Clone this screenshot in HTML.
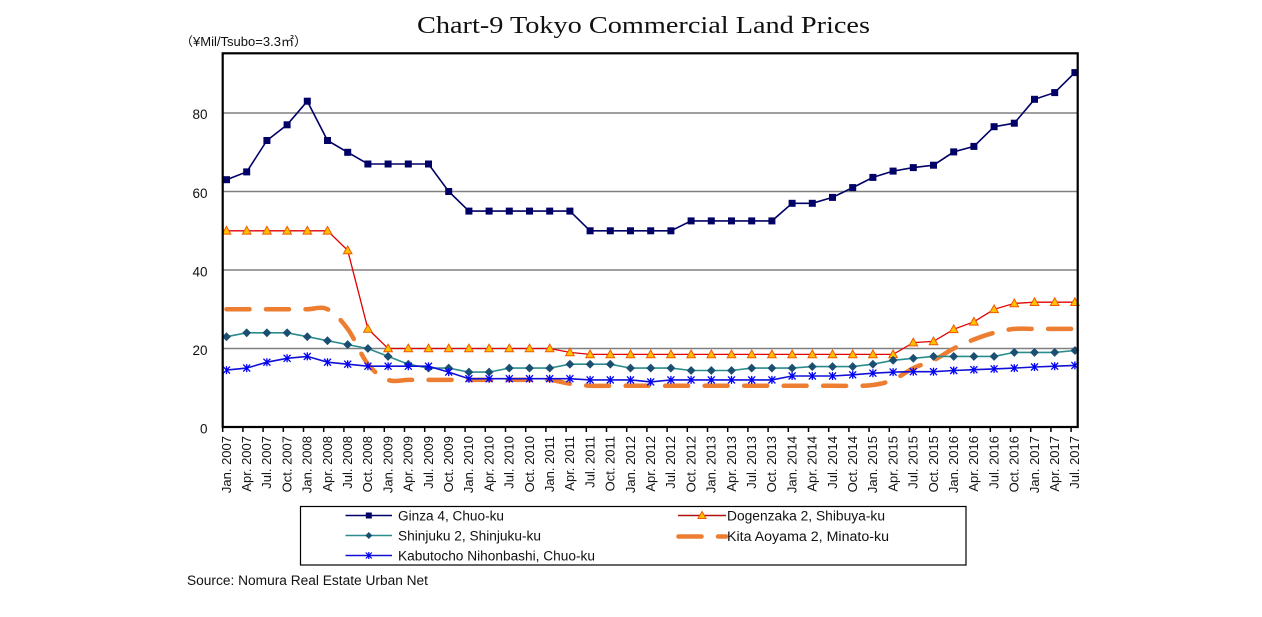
<!DOCTYPE html>
<html><head><meta charset="utf-8"><style>
html,body{margin:0;padding:0;background:#fff;}
svg{display:block;font-family:"Liberation Sans","Noto Sans CJK JP",sans-serif;}
</style></head><body>
<svg width="1262" height="617" viewBox="0 0 1262 617" xmlns="http://www.w3.org/2000/svg">
<defs>
<marker id="mSq" markerWidth="10" markerHeight="10" refX="5" refY="5" markerUnits="userSpaceOnUse" overflow="visible"><rect x="1.5" y="1.5" width="7" height="7" fill="#000066"/></marker>
<marker id="mTri" markerWidth="10" markerHeight="10" refX="5" refY="5" markerUnits="userSpaceOnUse" overflow="visible"><path d="M5,0.6 L9.3,8.3 L0.7,8.3 Z" fill="#ffc000" stroke="#f05a00" stroke-width="1"/></marker>
<marker id="mDia" markerWidth="10" markerHeight="10" refX="5" refY="5" markerUnits="userSpaceOnUse" overflow="visible"><path d="M5,1 L9,5 L5,9 L1,5 Z" fill="#1b4f72" stroke="#1b4f72" stroke-width="0.6"/></marker>
<marker id="mAst" markerWidth="10" markerHeight="10" refX="5" refY="5" markerUnits="userSpaceOnUse" overflow="visible"><path d="M1.5,1.5 L8.5,8.5 M8.5,1.5 L1.5,8.5 M5,1 L5,9" stroke="#0000ff" stroke-width="1.3" fill="none"/></marker>
</defs>

<!-- title -->
<text x="417" y="33" font-family="'Liberation Serif',serif" font-size="24" fill="#111" textLength="453" lengthAdjust="spacingAndGlyphs">Chart-9 Tokyo Commercial Land Prices</text>
<text x="180" y="46" font-size="12.5" fill="#111" textLength="127" lengthAdjust="spacingAndGlyphs">（¥Mil/Tsubo=3.3㎡）</text>

<!-- gridlines -->
<g stroke="#808080" stroke-width="1.6">
<line x1="223" y1="348.5" x2="1077" y2="348.5"/>
<line x1="223" y1="270" x2="1077" y2="270"/>
<line x1="223" y1="191.5" x2="1077" y2="191.5"/>
<line x1="223" y1="113" x2="1077" y2="113"/>
</g>

<!-- y labels -->
<g font-size="13.5" fill="#111" text-anchor="end">
<text x="207.5" y="433.5">0</text>
<text x="207.5" y="355">20</text>
<text x="207.5" y="276.5">40</text>
<text x="207.5" y="198">60</text>
<text x="207.5" y="119">80</text>
</g>

<!-- Kita Aoyama (orange dashed, smoothed) -->
<path d="M226.5,309.25 L307.3,309.25 C314.03,309.25 320.77,305.98 327.5,309.25 C334.23,312.5 340.97,319.74 347.7,328.9 C354.43,338.06 361.17,355.7 367.9,364.2 C374.63,372.7 381.37,377.28 388.1,379.9 C394.83,382.52 401.57,379.9 408.3,379.9 L529.5,379.9 C536.23,379.9 542.97,379.25 549.7,379.9 C556.43,380.55 563.17,382.82 569.9,383.8 C576.63,384.78 583.37,385.47 590.1,385.8 C596.83,386.13 603.57,385.8 610.3,385.8 L832.5,385.8 C839.23,385.8 845.97,385.93 852.7,385.8 C859.43,385.67 866.17,385.98 872.9,385.0 C879.63,384.02 886.37,382.72 893.1,379.9 C899.83,377.08 906.57,371.37 913.3,368.1 C920.03,364.83 926.77,363.57 933.5,360.3 C940.23,357.03 946.97,351.97 953.7,348.5 C960.43,345.03 967.17,342.12 973.9,339.5 C980.63,336.88 987.37,334.57 994.1,332.8 C1000.83,331.03 1007.57,329.55 1014.3,328.9 C1021.03,328.25 1027.77,328.9 1034.5,328.9 L1074.9,328.9" fill="none" stroke="#ed7d31" stroke-width="4.5" stroke-linecap="round" stroke-dasharray="23 16.5"/>

<!-- Ginza -->
<polyline fill="none" stroke="#000066" stroke-width="1.6" marker-start="url(#mSq)" marker-mid="url(#mSq)" marker-end="url(#mSq)" points="226.5,179.7 246.7,171.9 266.9,140.5 287.1,124.8 307.3,101.2 327.5,140.5 347.7,152.3 367.9,164 388.1,164 408.3,164 428.5,164 448.7,191.5 468.9,211.1 489.1,211.1 509.3,211.1 529.5,211.1 549.7,211.1 569.9,211.1 590.1,230.8 610.3,230.8 630.5,230.8 650.7,230.8 670.9,230.8 691.1,220.9 711.3,220.9 731.5,220.9 751.7,220.9 771.9,220.9 792.1,203.3 812.3,203.3 832.5,197.4 852.7,187.6 872.9,177.4 893.1,171.1 913.3,167.6 933.5,165.2 953.7,151.9 973.9,146.4 994.1,126.7 1014.3,123.2 1034.5,99.3 1054.7,92.6 1074.9,72.6"/>

<!-- Dogenzaka -->
<polyline fill="none" stroke="#e00000" stroke-width="1.3" marker-start="url(#mTri)" marker-mid="url(#mTri)" marker-end="url(#mTri)" points="226.5,230.8 246.7,230.8 266.9,230.8 287.1,230.8 307.3,230.8 327.5,230.8 347.7,250.4 367.9,328.9 388.1,348.5 408.3,348.5 428.5,348.5 448.7,348.5 468.9,348.5 489.1,348.5 509.3,348.5 529.5,348.5 549.7,348.5 569.9,352.4 590.1,354.4 610.3,354.4 630.5,354.4 650.7,354.4 670.9,354.4 691.1,354.4 711.3,354.4 731.5,354.4 751.7,354.4 771.9,354.4 792.1,354.4 812.3,354.4 832.5,354.4 852.7,354.4 872.9,354.4 893.1,354.4 913.3,342.6 933.5,341.4 953.7,329.3 973.9,321.8 994.1,309.3 1014.3,303.4 1034.5,302.2 1054.7,302.2 1074.9,302.2"/>

<!-- Shinjuku -->
<polyline fill="none" stroke="#2a8c8c" stroke-width="1.6" marker-start="url(#mDia)" marker-mid="url(#mDia)" marker-end="url(#mDia)" points="226.5,336.7 246.7,332.8 266.9,332.8 287.1,332.8 307.3,336.7 327.5,340.7 347.7,344.6 367.9,348.5 388.1,356.4 408.3,364.2 428.5,368.1 448.7,368.1 468.9,372.1 489.1,372.1 509.3,368.1 529.5,368.1 549.7,368.1 569.9,364.2 590.1,364.2 610.3,364.2 630.5,368.1 650.7,368.1 670.9,368.1 691.1,370.5 711.3,370.5 731.5,370.5 751.7,368.1 771.9,368.1 792.1,368.1 812.3,366.6 832.5,366.6 852.7,366.6 872.9,364.2 893.1,360.3 913.3,358.3 933.5,356.4 953.7,356.4 973.9,356.4 994.1,356.4 1014.3,352.4 1034.5,352.4 1054.7,352.4 1074.9,350.5"/>

<!-- Kabutocho -->
<polyline fill="none" stroke="#1010d8" stroke-width="1.6" marker-start="url(#mAst)" marker-mid="url(#mAst)" marker-end="url(#mAst)" points="226.5,370.1 246.7,368.1 266.9,362.2 287.1,358.3 307.3,356.4 327.5,362.2 347.7,364.2 367.9,366.2 388.1,366.2 408.3,366.2 428.5,366.2 448.7,372.1 468.9,378.7 489.1,378.7 509.3,378.7 529.5,378.7 549.7,378.7 569.9,378.7 590.1,379.9 610.3,379.9 630.5,379.9 650.7,381.9 670.9,379.9 691.1,379.9 711.3,379.9 731.5,379.9 751.7,379.9 771.9,379.9 792.1,376 812.3,376 832.5,376 852.7,374.8 872.9,373.2 893.1,372.1 913.3,371.7 933.5,371.7 953.7,370.5 973.9,369.7 994.1,368.9 1014.3,368.1 1034.5,367 1054.7,366.2 1074.9,365.4"/>

<!-- plot border / axes -->
<rect x="222.7" y="53.3" width="855" height="373.7" fill="none" stroke="#000" stroke-width="2.2"/>

<!-- x ticks -->
<path stroke="#000" stroke-width="1.5" fill="none" d="M222.7,427V432 M242.9,427V432 M263.1,427V432 M283.3,427V432 M303.5,427V432 M323.7,427V432 M343.9,427V432 M364.1,427V432 M384.3,427V432 M404.5,427V432 M424.7,427V432 M444.9,427V432 M465.1,427V432 M485.3,427V432 M505.5,427V432 M525.7,427V432 M545.9,427V432 M566.1,427V432 M586.3,427V432 M606.5,427V432 M626.7,427V432 M646.9,427V432 M667.1,427V432 M687.3,427V432 M707.5,427V432 M727.7,427V432 M747.9,427V432 M768.1,427V432 M788.3,427V432 M808.5,427V432 M828.7,427V432 M848.9,427V432 M869.1,427V432 M889.3,427V432 M909.5,427V432 M929.7,427V432 M949.9,427V432 M970.1,427V432 M990.3,427V432 M1010.5,427V432 M1030.7,427V432 M1050.9,427V432 M1071.1,427V432"/>

<!-- x labels -->
<g font-size="13" fill="#111" text-anchor="end">
<text transform="translate(230.8,436) rotate(-90)">Jan. 2007</text>
<text transform="translate(251.0,436) rotate(-90)">Apr. 2007</text>
<text transform="translate(271.2,436) rotate(-90)">Jul. 2007</text>
<text transform="translate(291.4,436) rotate(-90)">Oct. 2007</text>
<text transform="translate(311.6,436) rotate(-90)">Jan. 2008</text>
<text transform="translate(331.8,436) rotate(-90)">Apr. 2008</text>
<text transform="translate(352.0,436) rotate(-90)">Jul. 2008</text>
<text transform="translate(372.2,436) rotate(-90)">Oct. 2008</text>
<text transform="translate(392.4,436) rotate(-90)">Jan. 2009</text>
<text transform="translate(412.6,436) rotate(-90)">Apr. 2009</text>
<text transform="translate(432.8,436) rotate(-90)">Jul. 2009</text>
<text transform="translate(453.0,436) rotate(-90)">Oct. 2009</text>
<text transform="translate(473.2,436) rotate(-90)">Jan. 2010</text>
<text transform="translate(493.4,436) rotate(-90)">Apr. 2010</text>
<text transform="translate(513.6,436) rotate(-90)">Jul. 2010</text>
<text transform="translate(533.8,436) rotate(-90)">Oct. 2010</text>
<text transform="translate(554.0,436) rotate(-90)">Jan. 2011</text>
<text transform="translate(574.2,436) rotate(-90)">Apr. 2011</text>
<text transform="translate(594.4,436) rotate(-90)">Jul. 2011</text>
<text transform="translate(614.6,436) rotate(-90)">Oct. 2011</text>
<text transform="translate(634.8,436) rotate(-90)">Jan. 2012</text>
<text transform="translate(655.0,436) rotate(-90)">Apr. 2012</text>
<text transform="translate(675.2,436) rotate(-90)">Jul. 2012</text>
<text transform="translate(695.4,436) rotate(-90)">Oct. 2012</text>
<text transform="translate(715.6,436) rotate(-90)">Jan. 2013</text>
<text transform="translate(735.8,436) rotate(-90)">Apr. 2013</text>
<text transform="translate(756.0,436) rotate(-90)">Jul. 2013</text>
<text transform="translate(776.2,436) rotate(-90)">Oct. 2013</text>
<text transform="translate(796.4,436) rotate(-90)">Jan. 2014</text>
<text transform="translate(816.6,436) rotate(-90)">Apr. 2014</text>
<text transform="translate(836.8,436) rotate(-90)">Jul. 2014</text>
<text transform="translate(857.0,436) rotate(-90)">Oct. 2014</text>
<text transform="translate(877.2,436) rotate(-90)">Jan. 2015</text>
<text transform="translate(897.4,436) rotate(-90)">Apr. 2015</text>
<text transform="translate(917.6,436) rotate(-90)">Jul. 2015</text>
<text transform="translate(937.8,436) rotate(-90)">Oct. 2015</text>
<text transform="translate(958.0,436) rotate(-90)">Jan. 2016</text>
<text transform="translate(978.2,436) rotate(-90)">Apr. 2016</text>
<text transform="translate(998.4,436) rotate(-90)">Jul. 2016</text>
<text transform="translate(1018.6,436) rotate(-90)">Oct. 2016</text>
<text transform="translate(1038.8,436) rotate(-90)">Jan. 2017</text>
<text transform="translate(1059.0,436) rotate(-90)">Apr. 2017</text>
<text transform="translate(1079.2,436) rotate(-90)">Jul. 2017</text>
</g>

<!-- legend -->
<rect x="300.5" y="506.5" width="665.5" height="58.5" fill="#fff" stroke="#000" stroke-width="1.2"/>
<line x1="345.5" y1="515.5" x2="392" y2="515.5" stroke="#000066" stroke-width="1.6"/>
<rect x="365.8" y="512.5" width="6" height="6" fill="#000066"/>
<line x1="345.5" y1="535.5" x2="392" y2="535.5" stroke="#2a8c8c" stroke-width="1.6"/>
<path d="M368.8,532 L372.3,535.5 L368.8,539 L365.3,535.5 Z" fill="#1b4f72"/>
<line x1="345.5" y1="555.5" x2="392" y2="555.5" stroke="#1010d8" stroke-width="1.6"/>
<path d="M365.8,552.5 L371.8,558.5 M371.8,552.5 L365.8,558.5 M368.8,552 L368.8,559" stroke="#0000ff" stroke-width="1.2"/>
<line x1="678" y1="515.5" x2="726" y2="515.5" stroke="#b01010" stroke-width="1.4"/>
<path d="M702,511.5 L706,518.5 L698,518.5 Z" fill="#ffc000" stroke="#f05a00" stroke-width="1"/>
<line x1="678.5" y1="536.5" x2="726" y2="536.5" stroke="#ed7d31" stroke-width="4.5" stroke-linecap="round" stroke-dasharray="23 16.5"/>

<g font-size="13.5" fill="#111">
<text x="398" y="520.5" textLength="106" lengthAdjust="spacingAndGlyphs">Ginza 4, Chuo-ku</text>
<text x="398" y="540.5" textLength="143" lengthAdjust="spacingAndGlyphs">Shinjuku 2, Shinjuku-ku</text>
<text x="398" y="560.5" textLength="197" lengthAdjust="spacingAndGlyphs">Kabutocho Nihonbashi, Chuo-ku</text>
<text x="727" y="520.5" textLength="158" lengthAdjust="spacingAndGlyphs">Dogenzaka 2, Shibuya-ku</text>
<text x="727" y="541" textLength="162" lengthAdjust="spacingAndGlyphs">Kita Aoyama 2, Minato-ku</text>
<text x="187" y="585" textLength="241" lengthAdjust="spacingAndGlyphs">Source: Nomura Real Estate Urban Net</text>
</g>
</svg>
</body></html>
